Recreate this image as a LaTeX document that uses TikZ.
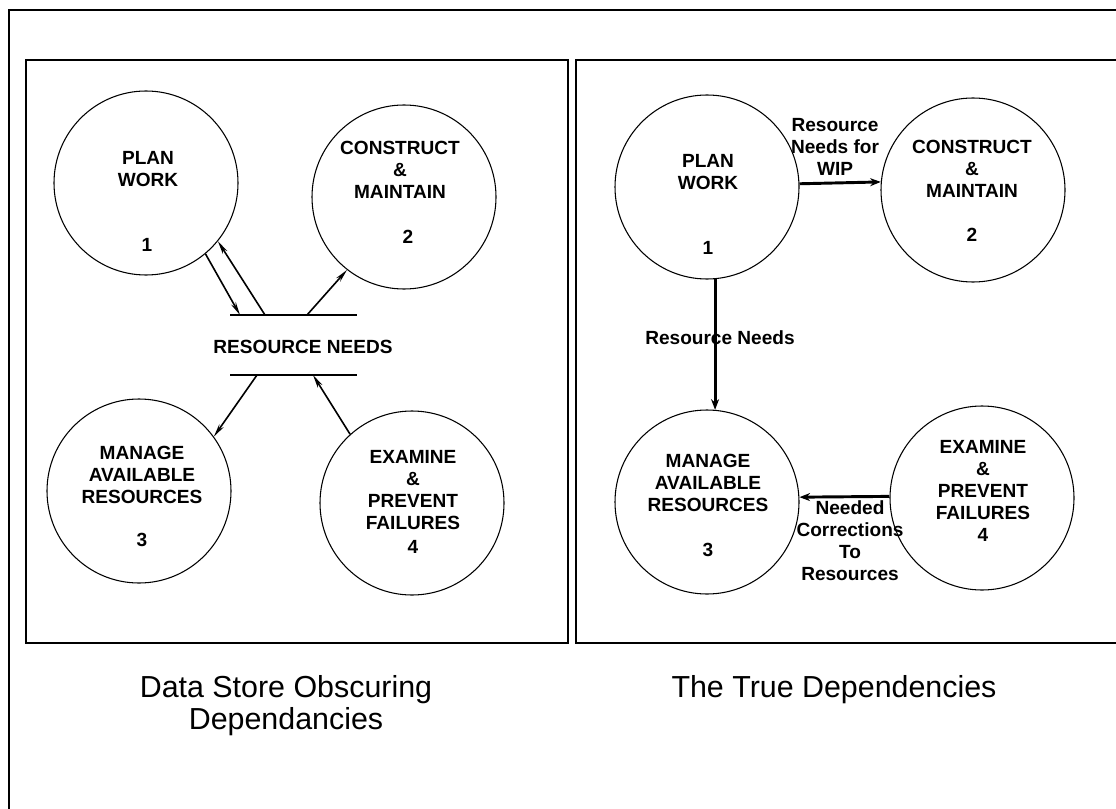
\documentclass[tikz,border=0pt]{standalone}
\usepackage{fontspec}
\setmainfont{Liberation Sans}
\usetikzlibrary{arrows.meta}
\begin{document}
\begin{tikzpicture}[x=0.75pt,y=-0.75pt,
  proc/.style={circle,draw,line width=0.8pt,minimum size=138pt,inner sep=0pt},
  lbl/.style={font=\bfseries\fontsize{14.3}{16.5}\selectfont,align=center,inner sep=0pt},
  captext/.style={font=\fontsize{22.8}{24}\selectfont,align=center,inner sep=0pt},
  flow/.style={line width=1.2pt,-{Stealth[length=10pt,width=4pt]}},
  tflow/.style={line width=2.2pt,-{Stealth[length=8pt,width=6pt]}},
  panel/.style={line width=1.5pt},
  storeline/.style={line width=1.2pt}
]
\useasboundingbox (0,0) rectangle (1116,809);
\fill[white] (0,0) rectangle (1116,809);
% frames
\draw[line width=2.2pt] (9,809) -- (9,10) -- (1116,10);
\draw[panel] (26,60) rectangle (568,643);
\draw[panel] (1116,60) -- (576,60) -- (576,643) -- (1116,643);

% ---------- left panel ----------
\node[proc] (lp1) at (146,183) {};
\node[proc] (lp2) at (404,197) {};
\node[proc] (lp3) at (139,491) {};
\node[proc] (lp4) at (412,503) {};

\node[lbl] (lt1) at (148,169) {PLAN\\WORK};
\node[lbl] (ln1) at (147,245) {1};
\node[lbl] (lt2) at (400,169.5) {CONSTRUCT\\\&\\MAINTAIN};
\node[lbl] (ln2) at (408,237) {2};
\node[lbl] (lt3) at (142,475) {MANAGE\\AVAILABLE\\RESOURCES};
\node[lbl] (ln3) at (142,540) {3};
\node[lbl] (lt4) at (413,490) {EXAMINE\\\&\\PREVENT\\FAILURES};
\node[lbl] (ln4) at (413,547) {4};

\node[lbl] (store) at (303,347) {RESOURCE NEEDS};
\coordinate (stl) at (230,315);
\coordinate (str) at (357,315);
\coordinate (sbl) at (230,375);
\coordinate (sbr) at (357,375);
\draw[storeline] (stl) -- (str);
\draw[storeline] (sbl) -- (sbr);
\coordinate (sa) at (265,315);
\coordinate (sb) at (240,315);
\coordinate (sc) at (307,315);
\coordinate (sd) at (257,375);
\coordinate (se) at (313,375);
\draw[flow] (sa) -- (lp1.-39);
\draw[flow] (lp1.-50) -- (sb);
\draw[flow] (sc) -- (lp2.-128);
\draw[flow] (sd) -- (lp3.36);
\draw[flow] (lp4.132) -- (se);

% ---------- right panel ----------
\node[proc] (rp1) at (707,187) {};
\node[proc] (rp2) at (973,190) {};
\node[proc] (rp3) at (707,502) {};
\node[proc] (rp4) at (982,498) {};

\node[lbl] (rt1) at (708,172.5) {PLAN\\WORK};
\node[lbl] (rn1) at (708,248) {1};
\node[lbl] (rt2) at (972,169) {CONSTRUCT\\\&\\MAINTAIN};
\node[lbl] (rn2) at (972,235) {2};
\node[lbl] (rt3) at (708,483) {MANAGE\\AVAILABLE\\RESOURCES};
\node[lbl] (rn3) at (708,550) {3};
\node[lbl] (rt4) at (983,480) {EXAMINE\\\&\\PREVENT\\FAILURES};
\node[lbl] (rn4) at (983,535) {4};

\node[lbl] (f12) at (835,146.5) {Resource\\Needs for\\WIP};
\node[lbl] (f13) at (720,338) {Resource Needs};
\node[lbl] (f43) at (850,541) {Needed\\Corrections\\To\\Resources};

\draw[tflow] (rp1.2.5) -- (rp2.175.6);
\draw[tflow] (rp1.-85.6) -- (rp3.85.6);
\draw[tflow] (rp4.179.4) -- (rp3.3.1);

% ---------- captions ----------
\node[captext] (c1) at (286,706) {Data Store Obscuring\\Dependancies};
\node[captext] (c2) at (834,690) {The True Dependencies};
\end{tikzpicture}
\end{document}
